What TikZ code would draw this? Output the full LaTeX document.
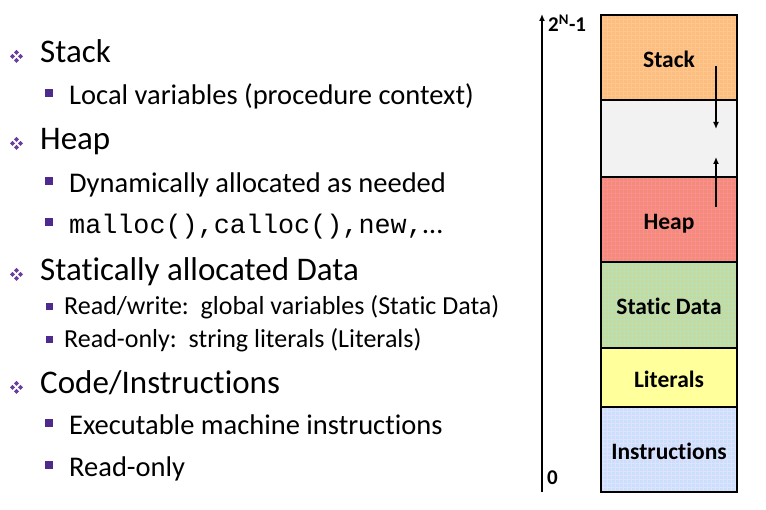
\documentclass[tikz,border=0pt]{standalone}
\usepackage{fontspec}
\setmainfont{Carlito}[Ligatures=NoCommon]
\setmonofont{Liberation Mono}[Scale=0.94]
\usetikzlibrary{arrows.meta,positioning}

\definecolor{bulpurple}{HTML}{4E2A8E}
\definecolor{diapurple}{HTML}{6A3D9E}
\definecolor{stackcol}{HTML}{FBBE80}
\definecolor{gapcol}{HTML}{F2F2F2}
\definecolor{heapcol}{HTML}{F08C7A}
\definecolor{staticcol}{HTML}{C6DA9E}
\definecolor{litcol}{HTML}{FFFF9C}
\definecolor{instrcol}{HTML}{C8E0FA}

\tikzset{
  item/.style={anchor=base west, inner sep=0pt, font=\fontsize{33}{37}\selectfont},
  sub/.style={anchor=base west, inner sep=0pt, font=\fontsize{28.5}{32}\selectfont},
  subsmall/.style={anchor=base west, inner sep=0pt, font=\fontsize{26}{29}\selectfont},
  sqbul/.style={fill=bulpurple, minimum size=8pt, inner sep=0pt},
  sqsmall/.style={fill=bulpurple, minimum size=7pt, inner sep=0pt},
  diabul/.pic={
    \foreach \dx/\dy in {0/4,4/0,0/-4,-4/0}
      \fill[diapurple] (\dx,\dy) ++(0,2.5) -- ++(2.5,-2.5) -- ++(-2.5,-2.5) -- ++(-2.5,2.5) -- cycle;
  },
  seg/.style={draw, line width=1.6pt, outer sep=0pt, minimum width=136pt,
    text height=20pt, text depth=0pt, font=\bfseries\fontsize{23.5}{26}\selectfont},
  checks/.style={path picture={
    \draw[#1, line width=0.3pt, step=4pt]
      (path picture bounding box.south west) grid (path picture bounding box.north east);}},
  addr/.style={anchor=base west, inner sep=0pt, font=\bfseries\fontsize{21}{24}\selectfont},
  mem/.style={line width=1.5pt, -{Latex[length=7pt,width=6pt]}}
}

\begin{document}
\begin{tikzpicture}[x=1pt,y=-1pt]
  \useasboundingbox (0,0) rectangle (766,510);

  % left column
  \foreach \y/\txt/\nm in {63/{Stack}/ia,150/{Heap}/ib,281/{Statically allocated Data}/ic,394/{Code/Instructions}/id}{
    \pic at (16.5,\y-6.5) {diabul};
    \node[item] (\nm) at (40,\y) {\txt};
  }
  \foreach \y/\txt/\nm in {105/{Local variables (procedure context)}/sa,
                           193/{Dynamically allocated as needed}/sb,
                           234/{\texttt{malloc(),calloc(),new,}…}/sc,
                           435/{Executable machine instructions}/sd,
                           477/{Read-only}/se}{
    \node[sqbul] (b\nm) at (49,\y-11.5) {};
    \node[sub] (\nm) at (69,\y) {\txt};
  }
  \foreach \y/\txt/\nm in {315/{Read/write:\ \ global variables (Static Data)}/ta,
                           348/{Read-only:\ \ string literals (Literals)}/tb}{
    \node[sqsmall] (b\nm) at (49,\y-8.5) {};
    \node[subsmall] (\nm) at (64,\y) {\txt};
  }

  % memory layout
  \node[seg, anchor=north, fill=stackcol, checks=orange!45, minimum height=85pt] (stack) at (669,15) {Stack};
  \node[seg, below=0pt of stack, fill=gapcol, minimum height=77pt] (free) {};
  \node[seg, below=0pt of free, fill=heapcol, checks=red!45, minimum height=85pt] (heap) {Heap};
  \node[seg, below=0pt of heap, fill=staticcol, checks=green!40!gray!40, minimum height=86pt] (static) {Static Data};
  \node[seg, below=0pt of static, fill=litcol, minimum height=59pt] (lit) {Literals};
  \node[seg, below=0pt of lit, fill=instrcol, checks=blue!12, minimum height=85pt] (instr) {Instructions};

  \coordinate (s1) at (716,66);
  \coordinate (s2) at (716,129);
  \coordinate (h1) at (716,207);
  \coordinate (h2) at (716,157);
  \draw[mem] (s1) -- (s2);
  \draw[mem] (h1) -- (h2);

  % address axis
  \coordinate (lo) at (542,492);
  \coordinate (hi) at (542,14);
  \draw[mem] (lo) -- (hi);
  \node[addr] (top) at (548,32) {2\textsuperscript{N}-1};
  \node[addr] (zero) at (547,485) {0};

\end{tikzpicture}
\end{document}
